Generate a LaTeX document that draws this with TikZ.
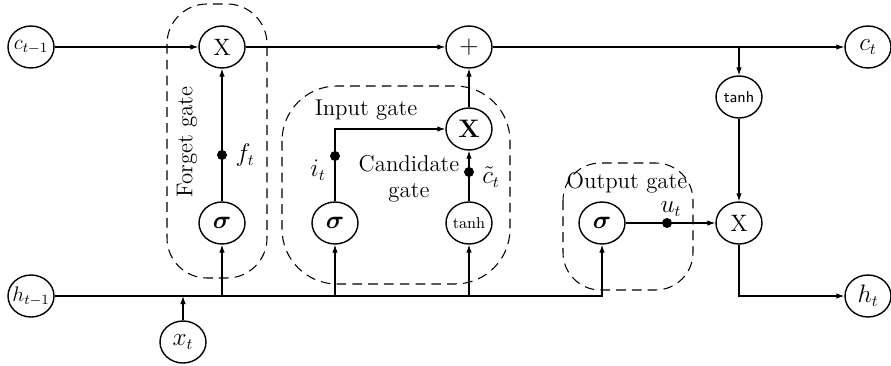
\documentclass[tikz,border=0pt]{standalone}
\usepackage{amsmath}
\usepackage{tikz}
\usetikzlibrary{arrows.meta,positioning,shapes.geometric,calc}
\tikzset{
  opnode/.style={draw, thick, ellipse, minimum width=0.92cm, minimum height=0.84cm,
                 inner sep=0pt, fill=white},
  gatebox/.style={draw, semithick, dash pattern=on 5.5pt off 3.5pt},
  jdot/.style={circle, fill, inner sep=0pt, minimum size=0.2cm},
  gatelbl/.style={font=\fontsize{13}{15}\selectfont, align=center},
}

\begin{document}
\begin{tikzpicture}[x=0.02cm, y=-0.02cm, semithick,
    font=\fontsize{13.5}{15}\selectfont, >={Latex[length=1.6mm,width=1.1mm]}]
    \useasboundingbox (0,0) rectangle (891,365);
    % gate regions
    \draw[gatebox, rounded corners=0.8cm] (167,4) rectangle (267,278);
    \draw[gatebox, rounded corners=1.1cm] (282,86) rectangle (510,284);
    \draw[gatebox, rounded corners=0.75cm] (563,163) rectangle (693,290);
    % nodes
    \node[opnode] (cprev) at (31,47)   {\makebox[0pt]{\fontsize{12}{14}\selectfont$c_{t-1}$}};
    \node[opnode] (fx)    at (222,47)  {X};
    \node[opnode] (plus)  at (469,47)  {$+$};
    \node[opnode] (ct)    at (868,47)  {$c_t$};
    \node[opnode] (fs)    at (222,223) {$\boldsymbol{\sigma}$};
    \node[opnode] (is)    at (335,223) {$\boldsymbol{\sigma}$};
    \node[opnode] (ctanh) at (469,223) {\small tanh};
    \node[opnode] (ix)    at (469,129) {$\mathbf{X}$};
    \node[opnode] (os)    at (602,223) {$\boldsymbol{\sigma}$};
    \node[opnode] (otanh) at (739,97)  {\sffamily\small tanh};
    \node[opnode] (ox)    at (739,223) {X};
    \node[opnode] (hprev) at (31,296)  {\makebox[0pt]{\fontsize{12}{14}\selectfont$h_{t-1}$}};
    \node[opnode] (ht)    at (868,296) {$h_t$};
    \node[opnode] (xt)    at (183,342) {$x_t$};
    % cell state
    \draw[->] (cprev) -- (fx);
    \draw[->] (fx) -- (plus);
    \draw[->] (plus) -- (ct);
    \draw[->] (otanh |- ct) -- (otanh);
    \draw[->] (otanh) -- (ox);
    \draw[->] (ox) |- (ht);
    % hidden state and input
    \draw[->] (hprev) -| (os);
    \draw[->] (xt) -- (xt |- hprev);
    \draw[->] (fs |- hprev) -- (fs);
    \draw[->] (is |- hprev) -- (is);
    \draw[->] (ctanh |- hprev) -- (ctanh);
    % gates
    \draw[->] (fs) -- (fx);
    \draw[->] (is) |- (ix);
    \draw[->] (ctanh) -- (ix);
    \draw[->] (ix) -- (plus);
    \draw[->] (os) -- (ox);
    \node[jdot] (fdot) at (222,155) {};
    \node[jdot] (idot) at (335,156) {};
    \node[jdot] (cdot) at (469,172) {};
    \node[jdot] (odot) at (667,223) {};
    \node[right=1pt of fdot] {$f_t$};
    \node at (318,170) {$i_t$};
    \node at (491,177) {$\tilde{c}_t$};
    \node at (671,209) {$u_t$};
    % labels
    \node[gatelbl, rotate=90] at (187,142) {Forget gate};
    \node[gatelbl] at (366,110) {Input gate};
    \node[gatelbl] at (409,179) {Candidate\\gate};
    \node[gatelbl] at (627,183) {Output gate};
\end{tikzpicture}
\end{document}
